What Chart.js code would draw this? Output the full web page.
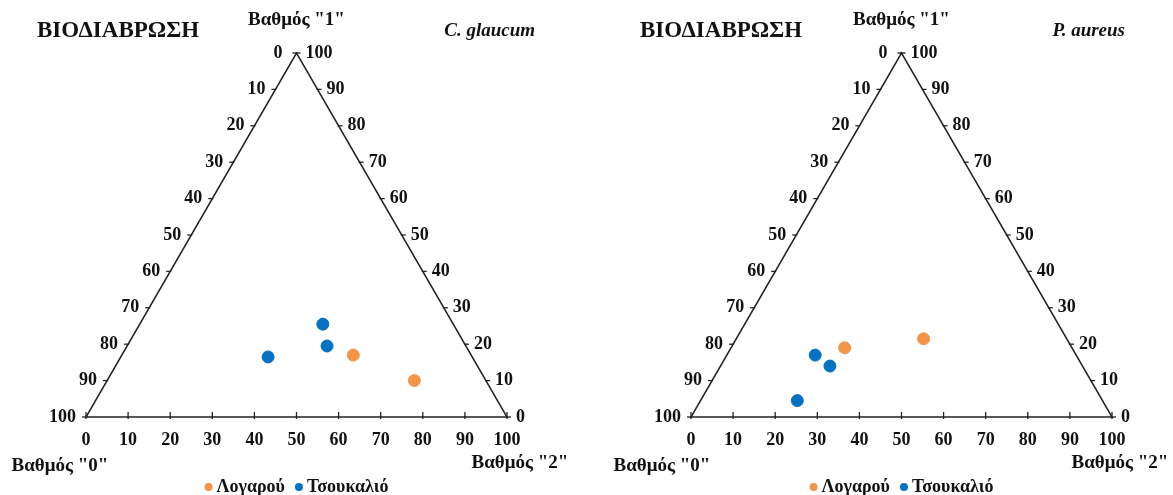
<!DOCTYPE html>
<html>
<head>
<meta charset="utf-8">
<script src="https://cdn.jsdelivr.net/npm/chart.js@4/dist/chart.umd.min.js"></script>
<style>
  body { margin: 0; background: #fff; width: 1173px; height: 495px; overflow: hidden; }
  canvas { position: absolute; top: 0; }
  #chartA { left: 0; }
  #chartB { left: 605px; }
</style>
</head>
<body>
<canvas id="chartA" width="590" height="495"></canvas>
<canvas id="chartB" width="568" height="495"></canvas>
<script>
// Ternary data: each point is [grade "0", grade "1", grade "2"] in %
const titleText = 'ΒΙΟΔΙΑΒΡΩΣΗ';
const gradeLabels = ['Βαθμός "0"', 'Βαθμός "1"', 'Βαθμός "2"'];
const seriesNames = ['Λογαρού', 'Τσουκαλιό'];
const seriesColors = ['#F2944A', '#0870C0'];
const tickValues = [0, 10, 20, 30, 40, 50, 60, 70, 80, 90, 100];

// C. glaucum
const glaucumLogarou = [[28, 17, 55], [17, 10, 73]];
const glaucumTsoukalio = [[31, 25.5, 43.5], [33, 19.5, 47.5], [48.5, 16.5, 35]];

// P. aureus
const aureusLogarou = [[54, 19, 27], [34, 21.5, 44.5]];
const aureusTsoukalio = [[62, 17, 21], [60, 14, 26], [72.5, 4.5, 23]];

const H = Math.sqrt(3) / 2;
const FONT = '"Liberation Serif", "Times New Roman", serif';

// ternary -> cartesian (x along base, y height)
function toXY(p) {
  return { x: p[2] + p[1] / 2, y: p[1] * H };
}

const ternaryFrame = {
  id: 'ternaryFrame',
  beforeDatasetsDraw(chart) {
    const ctx = chart.ctx;
    const xs = chart.scales.x, ys = chart.scales.y;
    const P = (g0, g1, g2) => {
      const c = toXY([g0, g1, g2]);
      return [xs.getPixelForValue(c.x), ys.getPixelForValue(c.y)];
    };
    const o = chart.options.plugins.ternaryFrame;

    ctx.save();
    ctx.strokeStyle = '#222';
    ctx.lineWidth = 1.5;
    const a = P(100, 0, 0), b = P(0, 0, 100), c = P(0, 100, 0);
    ctx.beginPath();
    ctx.moveTo(a[0], a[1]);
    ctx.lineTo(b[0], b[1]);
    ctx.lineTo(c[0], c[1]);
    ctx.closePath();
    ctx.stroke();

    ctx.fillStyle = '#111';
    ctx.font = 'bold 18px ' + FONT;
    ctx.lineWidth = 1.3;
    tickValues.forEach(v => {
      // bottom axis (grade "2")
      let p = P(100 - v, 0, v);
      ctx.beginPath();
      ctx.moveTo(p[0], p[1] + 2);
      ctx.lineTo(p[0], p[1] - 5);
      ctx.stroke();
      ctx.textAlign = 'center';
      ctx.textBaseline = 'middle';
      ctx.fillText(String(v), p[0], p[1] + 23);

      // left edge (grade "0")
      p = P(v, 100 - v, 0);
      ctx.beginPath();
      ctx.moveTo(p[0] - 4, p[1]);
      ctx.lineTo(p[0] + 1, p[1]);
      ctx.stroke();
      ctx.textAlign = 'right';
      ctx.fillText(String(v), p[0] - (v === 0 ? 14 : 10), p[1]);

      // right edge (grade "1")
      p = P(0, v, 100 - v);
      ctx.beginPath();
      ctx.moveTo(p[0] - 1, p[1]);
      ctx.lineTo(p[0] + 4, p[1]);
      ctx.stroke();
      ctx.textAlign = 'left';
      ctx.fillText(String(v), p[0] + 9, p[1]);
    });

    // titles and axis names
    ctx.textBaseline = 'middle';
    ctx.textAlign = 'left';
    ctx.font = 'bold 23px ' + FONT;
    ctx.fillText(titleText, o.titleX, 31);
    ctx.font = 'italic bold 19px ' + FONT;
    ctx.textAlign = 'right';
    ctx.fillText(o.species, o.speciesRight, 31);
    ctx.font = 'bold 19px ' + FONT;
    ctx.textAlign = 'center';
    ctx.fillText(gradeLabels[1], c[0], 20);
    ctx.fillText(gradeLabels[0], o.g0X, 466);
    ctx.fillText(gradeLabels[2], o.g2X, 463);

    // legend
    ctx.font = 'bold 18px ' + FONT;
    const items = chart.data.datasets.map(d => ({ label: d.label, color: d.backgroundColor }));
    const gapMarker = 8, gapItem = 10;
    const widths = items.map(it => ctx.measureText(it.label).width);
    const total = widths.reduce((s, w) => s + w + gapMarker + 4, 0) + gapItem * (items.length - 1);
    let lx = (chart.chartArea.left + chart.chartArea.right) / 2 - total / 2;
    ctx.textAlign = 'left';
    items.forEach((it, i) => {
      ctx.fillStyle = it.color;
      ctx.beginPath();
      ctx.arc(lx + 4, 487, 4, 0, Math.PI * 2);
      ctx.fill();
      ctx.fillStyle = '#111';
      ctx.fillText(it.label, lx + 4 + gapMarker, 487);
      lx += 4 + gapMarker + widths[i] + gapItem;
    });
    ctx.restore();
  }
};

function makeChart(id, logarou, tsoukalio, frameOpts) {
  const canvas = document.getElementById(id);
  const sets = [logarou, tsoukalio];
  return new Chart(canvas, {
    type: 'scatter',
    data: {
      datasets: sets.map((pts, i) => ({
        label: seriesNames[i],
        data: pts.map(toXY),
        backgroundColor: seriesColors[i],
        borderColor: seriesColors[i],
        pointRadius: 6,
        pointHoverRadius: 6,
        clip: false
      }))
    },
    options: {
      responsive: false,
      animation: false,
      devicePixelRatio: 1,
      layout: { padding: { left: 86, right: canvas.width - 507, top: 53, bottom: 78 } },
      scales: {
        x: { type: 'linear', min: 0, max: 100, display: false },
        y: { type: 'linear', min: 0, max: 100 * H, display: false }
      },
      plugins: {
        legend: { display: false },
        tooltip: { enabled: false },
        ternaryFrame: frameOpts
      }
    },
    plugins: [ternaryFrame]
  });
}

makeChart('chartA', glaucumLogarou, glaucumTsoukalio,
  { species: 'C. glaucum', titleX: 37, speciesRight: 535, g0X: 60, g2X: 520 });
makeChart('chartB', aureusLogarou, aureusTsoukalio,
  { species: 'P. aureus', titleX: 35, speciesRight: 520, g0X: 57, g2X: 515 });
</script>
</body>
</html>
